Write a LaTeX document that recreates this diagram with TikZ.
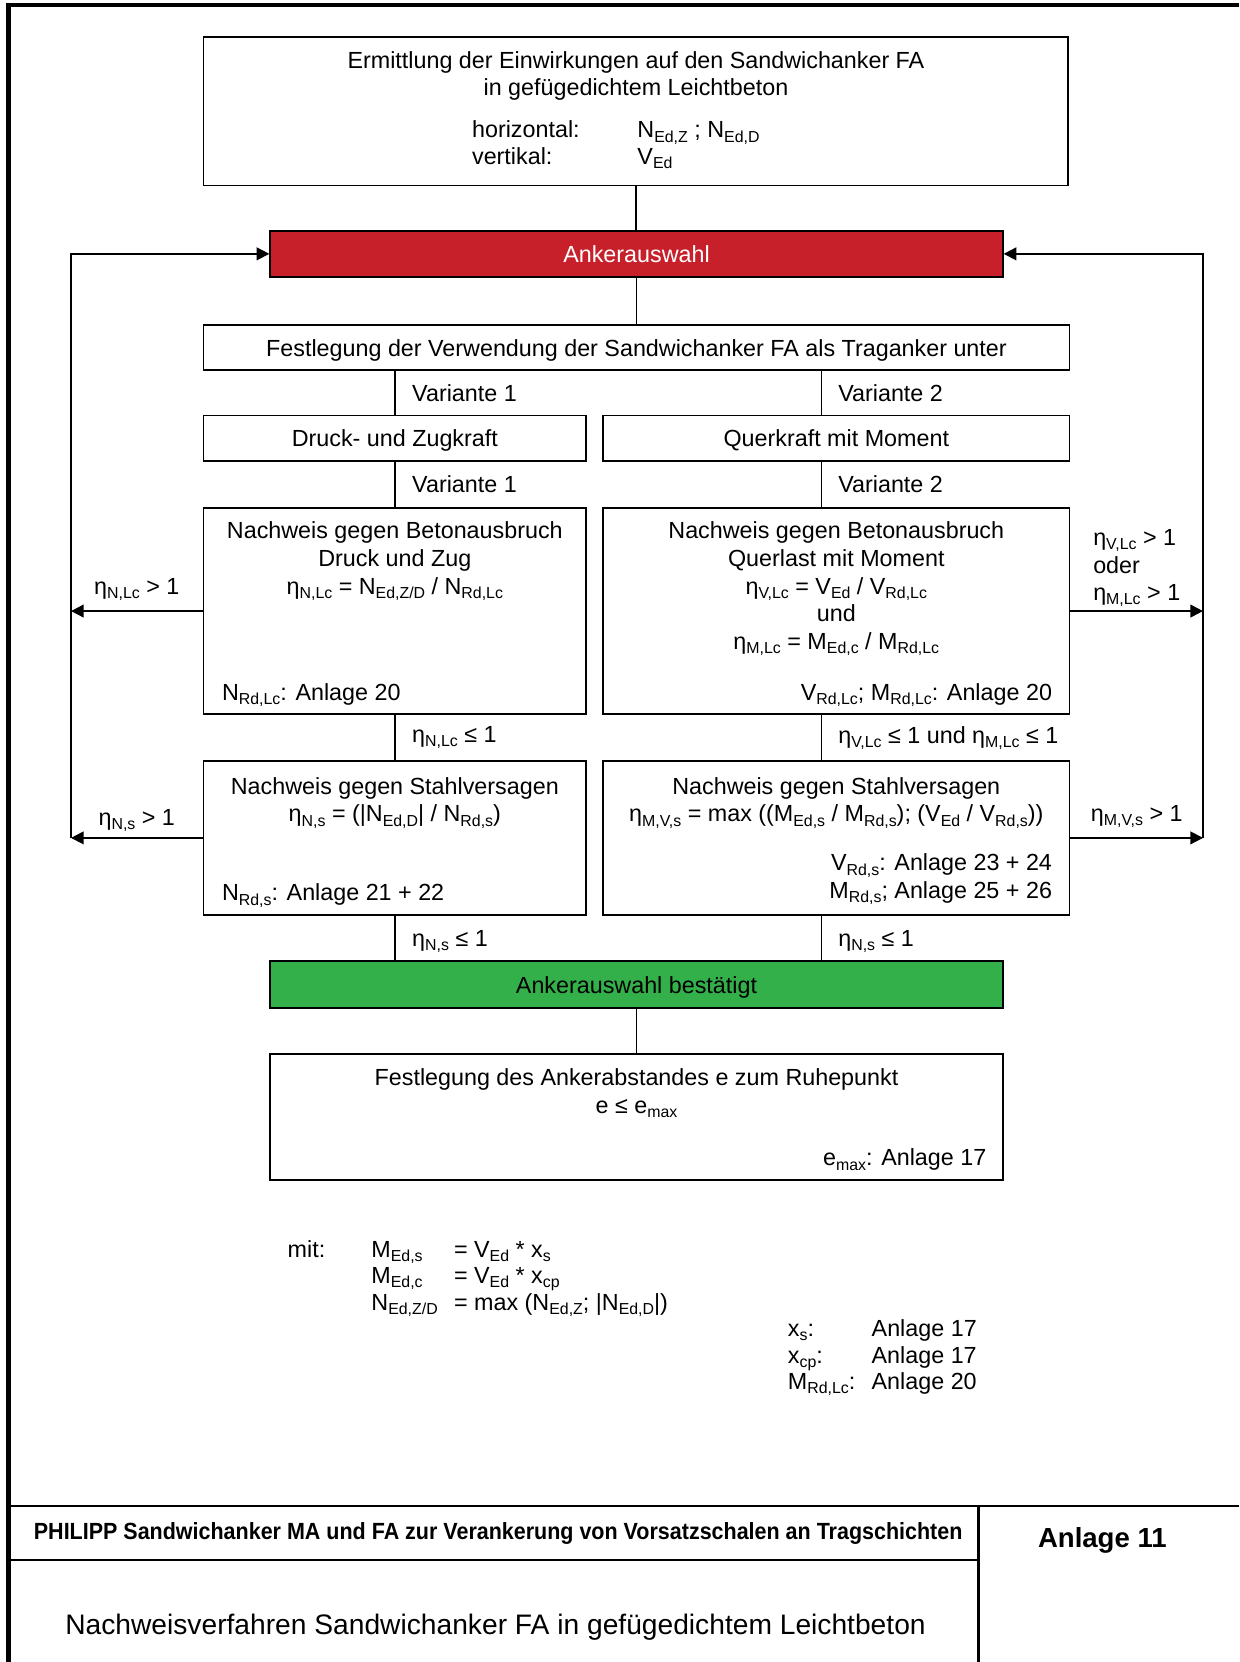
\documentclass[tikz,border=0pt]{standalone}
\usepackage{graphicx}
\usepackage{fontspec}
\setmainfont{Liberation Sans}
\usepackage{tikz}
\usetikzlibrary{arrows.meta}
\usetikzlibrary{positioning}
\definecolor{ankerrot}{RGB}{200,32,42}
\definecolor{ankergruen}{RGB}{51,176,74}
\newcommand{\ix}[1]{\raisebox{-0.35ex}{\fontsize{7.5}{8}\selectfont #1}}

\begin{document}
\begin{tikzpicture}[x=0.5pt,y=-0.5pt,font=\fontsize{11}{13}\selectfont,>={Triangle[length=6pt,width=6pt]}]
	\tikzset{
		B/.style={draw,line width=0.9pt,inner sep=0pt,align=center,text height=8.5pt,text depth=0.5pt},
		T/.style={align=center,inner sep=0pt},
		L/.style={inner sep=0pt},
	}
	\useasboundingbox (0,0) rectangle (1169,1568);
	
	% Rahmen und Schriftfeld
	\draw[line width=2pt] (8,1568) -- (8,5) -- (1169,5);
	\draw[line width=1.1pt] (8,1421) -- (1169,1421) (923,1421) -- (923,1568) (8,1472) -- (923,1472);
	\node[L] (kopf) at (470,1447) {\resizebox{438pt}{8pt}{\bfseries PHILIPP Sandwichanker MA und FA zur Verankerung von Vorsatzschalen an Tragschichten}};
	\node[L,font=\fontsize{13}{15}\selectfont\bfseries] (anl) at (1040,1453) {Anlage 11};
	\node[L,font=\fontsize{13.3}{15}\selectfont] (titel) at (467.5,1535) {Nachweisverfahren Sandwichanker FA in gefügedichtem Leichtbeton};
	
	% Kaesten
	\node[B,minimum width=408pt,minimum height=70pt] (top) at (600,105) {};
	\node[T,anchor=north] (topt) at ([yshift=-7pt]top.north) {Ermittlung der Einwirkungen auf den Sandwichanker FA\\in gefügedichtem Leichtbeton};
	\node[L,anchor=base west,font=\fontsize{11}{12.5}\selectfont] (topv) at (445,130) {\begin{tabular}[t]{@{}p{78pt}@{}l@{}}horizontal: & N\ix{Ed,Z} ; N\ix{Ed,D}\\ vertikal: & V\ix{Ed}\end{tabular}};
	
	\node[B,fill=ankerrot,text=white,minimum width=345.5pt,minimum height=21.5pt] (sel) at (600.5,239.5) {Ankerauswahl};
	\node[B,minimum width=408.5pt,minimum height=21pt] (fest) at (600.5,328) {Festlegung der Verwendung der Sandwichanker FA als Traganker unter};
	\node[B,minimum width=180.5pt,minimum height=21.5pt] (dz) at (372.5,413.5) {Druck- und Zugkraft};
	\node[B,minimum width=220pt,minimum height=21.5pt] (qm) at (789,413.5) {Querkraft mit Moment};
	
	\node[B,minimum width=180.5pt,minimum height=97.5pt] (bl) at (372.5,576.5) {};
	\node[T,anchor=north] (blt) at ([yshift=-7pt]bl.north) {Nachweis gegen Betonausbruch\\Druck und Zug\\η\ix{N,Lc} = N\ix{Ed,Z/D} / N\ix{Rd,Lc}};
	\node[L,anchor=base west] (blb) at ([xshift=9pt,yshift=7pt]bl.south west) {N\ix{Rd,Lc}: Anlage 20};
	
	\node[B,minimum width=220pt,minimum height=97.5pt] (br) at (789,576.5) {};
	\node[T,anchor=north] (brt) at ([yshift=-7pt]br.north) {Nachweis gegen Betonausbruch\\Querlast mit Moment\\η\ix{V,Lc} = V\ix{Ed} / V\ix{Rd,Lc}\\und\\η\ix{M,Lc} = M\ix{Ed,c} / M\ix{Rd,Lc}};
	\node[L,anchor=base east] (brb) at ([xshift=-8.5pt,yshift=7pt]br.south east) {V\ix{Rd,Lc}; M\ix{Rd,Lc}: Anlage 20};
	
	\node[B,minimum width=180.5pt,minimum height=72.5pt] (sl) at (372.5,790.5) {};
	\node[T,anchor=north] (slt) at ([yshift=-8pt]sl.north) {Nachweis gegen Stahlversagen\\η\ix{N,s} = (|N\ix{Ed,D}| / N\ix{Rd,s})};
	\node[L,anchor=base west] (slb) at ([xshift=9pt,yshift=7pt]sl.south west) {N\ix{Rd,s}: Anlage 21 + 22};
	
	\node[B,minimum width=220pt,minimum height=72.5pt] (sr) at (789,790.5) {};
	\node[T,anchor=north] (srt) at ([yshift=-8pt]sr.north) {Nachweis gegen Stahlversagen\\η\ix{M,V,s} = max ((M\ix{Ed,s} / M\ix{Rd,s}); (V\ix{Ed} / V\ix{Rd,s}))};
	\node[L,anchor=south east,align=right] (srb) at ([xshift=-8.5pt,yshift=5pt]sr.south east) {V\ix{Rd,s}: Anlage 23 + 24\\M\ix{Rd,s}; Anlage 25 + 26};
	
	\node[B,fill=ankergruen,minimum width=345.5pt,minimum height=22pt] (ok) at (600.5,929) {Ankerauswahl bestätigt};
	
	\node[B,minimum width=345.5pt,minimum height=59.5pt] (abst) at (600.5,1053.5) {};
	\node[T,anchor=north] (abstt) at ([yshift=-7.5pt]abst.north) {Festlegung des Ankerabstandes e zum Ruhepunkt\\e ≤ e\ix{max}};
	\node[L,anchor=base east] (abstb) at ([xshift=-8pt,yshift=7pt]abst.south east) {e\ix{max}: Anlage 17};
	
	% Erlaeuterungen
	\node[L,anchor=base west,font=\fontsize{11}{12.5}\selectfont] (mit) at (271,1186) {\begin{tabular}[t]{@{}p{39.5pt}@{}p{39pt}@{}l@{}}
		mit: & M\ix{Ed,s} & = V\ix{Ed} * x\ix{s}\\
		& M\ix{Ed,c} & = V\ix{Ed} * x\ix{cp}\\
		& N\ix{Ed,Z/D} & = max (N\ix{Ed,Z}; |N\ix{Ed,D}|)
	\end{tabular}};
	\node[L,anchor=base west,font=\fontsize{11}{12.5}\selectfont] (anh) at (743,1261) {\begin{tabular}[t]{@{}p{39.5pt}@{}l@{}}
		x\ix{s}: & Anlage 17\\
		x\ix{cp}: & Anlage 17\\
		M\ix{Rd,Lc}: & Anlage 20
	\end{tabular}};
	
	% Verbindungen
	\coordinate (V1) at (373,0);
	\coordinate (V2) at (775,0);
	\coordinate (LL) at (67,0);
	\coordinate (RR) at (1135,0);
	
	\draw[line width=0.9pt] (top.south) -- (top.south |- sel.north);
	\draw[line width=0.9pt] (sel.south) -- (sel.south |- fest.north);
	\draw[line width=0.9pt] (V1 |- fest.south) -- (V1 |- dz.north) node[midway,L,right=7.5pt] {Variante 1};
	\draw[line width=0.9pt] (V2 |- fest.south) -- (V2 |- qm.north) node[midway,L,right=7.5pt] {Variante 2};
	\draw[line width=0.9pt] (V1 |- dz.south) -- (V1 |- bl.north) node[midway,L,right=7.5pt] {Variante 1};
	\draw[line width=0.9pt] (V2 |- qm.south) -- (V2 |- br.north) node[midway,L,right=7.5pt] {Variante 2};
	\draw[line width=0.9pt] (V1 |- bl.south) -- (V1 |- sl.north) node[midway,L,right=7.5pt] {η\ix{N,Lc} ≤ 1};
	\draw[line width=0.9pt] (V2 |- br.south) -- (V2 |- sr.north) node[midway,L,right=7.5pt] {η\ix{V,Lc} ≤ 1 und η\ix{M,Lc} ≤ 1};
	\draw[line width=0.9pt] (V1 |- sl.south) -- (V1 |- ok.north) node[midway,L,right=7.5pt,yshift=-1.5pt] {η\ix{N,s} ≤ 1};
	\draw[line width=0.9pt] (V2 |- sr.south) -- (V2 |- ok.north) node[midway,L,right=7.5pt,yshift=-1.5pt] {η\ix{N,s} ≤ 1};
	\draw[line width=0.9pt] (ok.south) -- (ok.south |- abst.north);
	
	% Rueckfuehrungen
	\draw[->,line width=0.9pt] (bl.west) -- (bl.west -| LL) node[midway,L,above=4.5pt] {η\ix{N,Lc} > 1};
	\draw[->,line width=0.9pt] (sl.west) -- (sl.west -| LL) node[midway,L,above=2.5pt] {η\ix{N,s} > 1};
	\draw[->,line width=0.9pt] (sl.west -| LL) |- (sel.west);
	\draw[->,line width=0.9pt] (br.east) -- (br.east -| RR) node[midway,L,above=1.5pt,align=left] {η\ix{V,Lc} > 1\\oder\\η\ix{M,Lc} > 1};
	\draw[->,line width=0.9pt] (sr.east) -- (sr.east -| RR) node[midway,L,above=4.5pt] {η\ix{M,V,s} > 1};
	\draw[->,line width=0.9pt] (sr.east -| RR) |- (sel.east);
\end{tikzpicture}
\end{document}
